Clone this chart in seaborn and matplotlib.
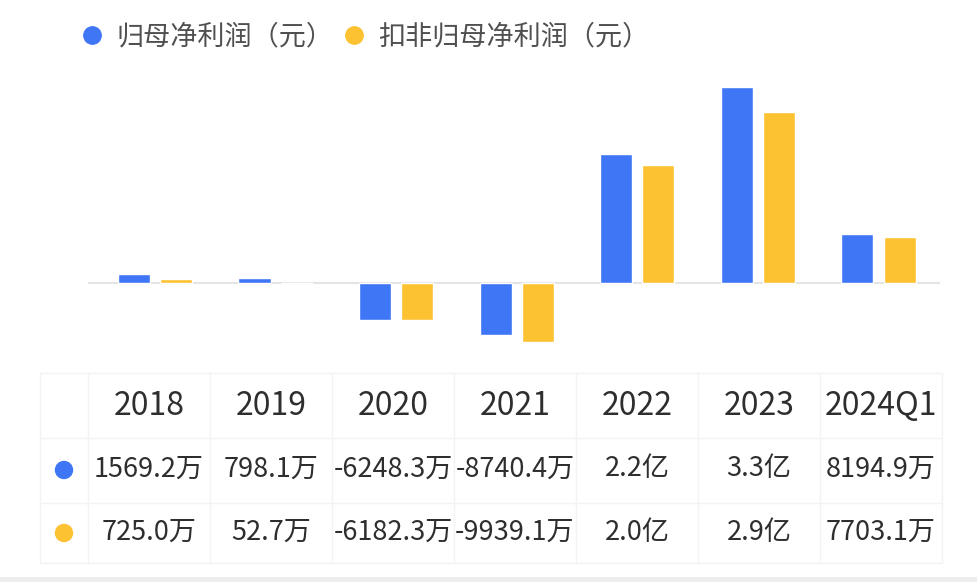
import matplotlib
matplotlib.use('Agg')
import matplotlib.pyplot as plt
from matplotlib.lines import Line2D
import seaborn as sns
import pandas as pd

# dados (万元)
anos = ['2018', '2019', '2020', '2021', '2022', '2023', '2024Q1']
series = ['归母净利润（元）', '扣非归母净利润（元）']
lucro = [1569.2, 798.1, -6248.3, -8740.4, 21600, 33000, 8194.9]
lucro_kf = [725.0, 52.7, -6182.3, -9939.1, 19900, 28700, 7703.1]
rot_lucro = ['1569.2万', '798.1万', '-6248.3万', '-8740.4万', '2.2亿', '3.3亿', '8194.9万']
rot_kf = ['725.0万', '52.7万', '-6182.3万', '-9939.1万', '2.0亿', '2.9亿', '7703.1万']

# cores
azul = '#3f76f6'
amarelo = '#fcc232'
cinza_txt = '#2e2e2e'
cinza_leg = '#505050'
cinza_linha = '#f3f3f3'

df = pd.DataFrame({
    'ano': anos * 2,
    'serie': [series[0]] * len(anos) + [series[1]] * len(anos),
    'valor': lucro + lucro_kf,
})

sns.set_theme(style='white')
plt.rcParams['font.family'] = ['Noto Sans CJK SC', 'DejaVu Sans']

W, H = 978, 582
fig = plt.figure(figsize=(W / 100, H / 100), dpi=100)
fig.patch.set_facecolor('white')

def eixo(x0, y0, x1, y1):
    # caixa em pixels (origem no topo)
    return fig.add_axes([x0 / W, 1 - y1 / H, (x1 - x0) / W, (y1 - y0) / H])

# grafico de barras
ax = eixo(88, 70, 940, 360)
sns.barplot(data=df, x='ano', y='valor', hue='serie', hue_order=series,
            palette=[azul, amarelo], width=0.7, gap=0.24, ax=ax,
            legend=False, saturation=1)
ax.axhline(0, color='#e4e4e4', lw=1.5, zorder=0)
ax.set_xlim(-0.556, 6.51)
ax.set_ylim(-12941, 35798)
ax.set_axis_off()

# legenda
handles = [Line2D([], [], marker='o', ls='', color=c, markersize=12.5) for c in (azul, amarelo)]
leg = fig.legend(handles, series, loc='center left', bbox_to_anchor=(79.5 / W, 1 - 37 / H),
                 ncol=2, frameon=False, handlelength=0.95, handletextpad=0.4,
                 columnspacing=0.3, borderpad=0, borderaxespad=0,
                 prop={'weight': 'medium', 'size': 19.5})
for t in leg.get_texts():
    t.set_color(cinza_leg)

# tabela
tb = eixo(40, 373, 942, 563)
tb.set_xlim(40, 942)
tb.set_ylim(563, 373)
tb.set_axis_off()
larg = (942 - 88) / len(anos)
xs = [88 + larg * (i + 0.5) for i in range(len(anos))]
for y in (373, 438, 503, 563):
    tb.plot([40, 942], [y, y], color=cinza_linha, lw=1, clip_on=False)
for x in [40, 88] + [88 + larg * (i + 1) for i in range(len(anos))]:
    tb.plot([x, x], [373, 563], color=cinza_linha, lw=1, clip_on=False)

for x, a in zip(xs, anos):
    tb.text(x, 406, a, ha='center', va='center', fontsize=23, color=cinza_txt, weight='medium')
for x, r in zip(xs, rot_lucro):
    tb.text(x, 469, r, ha='center', va='center', fontsize=19.5, color=cinza_txt, weight='medium')
for x, r in zip(xs, rot_kf):
    tb.text(x, 532, r, ha='center', va='center', fontsize=19.5, color=cinza_txt, weight='medium')
tb.scatter([64, 64], [470, 533], s=150, c=[azul, amarelo], clip_on=False, zorder=3)

# faixa cinza no rodape
rod = eixo(0, 577, 978, 582)
rod.set_facecolor('#ededed')
rod.set_xticks([])
rod.set_yticks([])
for s in rod.spines.values():
    s.set_visible(False)

fig.savefig('out.png', dpi=100, facecolor='white')
